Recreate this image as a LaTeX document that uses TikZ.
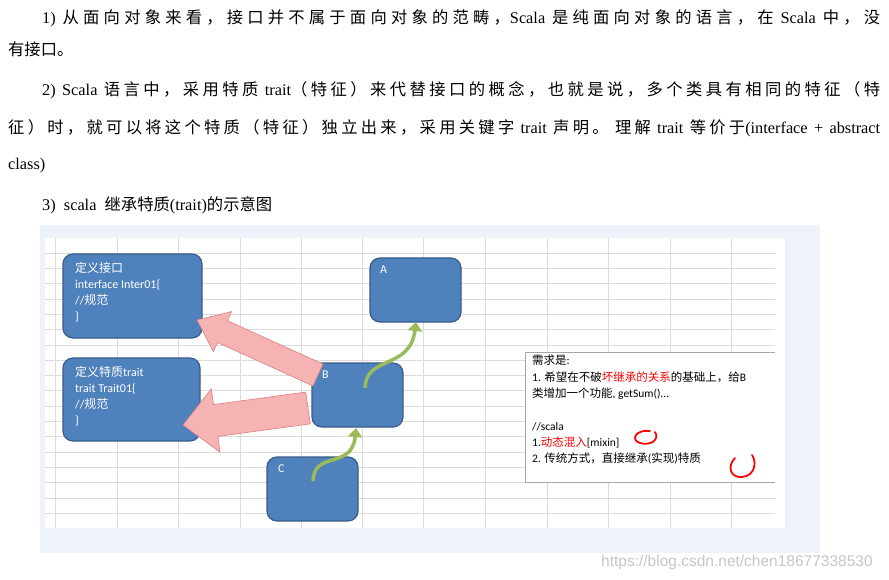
\documentclass[tikz,border=0pt]{standalone}
\usetikzlibrary{arrows.meta}
\usepackage{fontspec}
\setmainfont{Liberation Serif}
\newfontfamily\cjk{Noto Sans CJK SC}
\newfontfamily\dia{Carlito}
\newfontfamily\wm{Liberation Sans}
\def\latinfont{\rmfamily}
\XeTeXinterchartokenstate=1
\newXeTeXintercharclass\cjkclass
\newcount\cc
\cc="4E00 \loop \XeTeXcharclass\cc=\cjkclass \advance\cc1 \ifnum\cc<"A000 \repeat
\cc="3000 \loop \XeTeXcharclass\cc=\cjkclass \advance\cc1 \ifnum\cc<"3040 \repeat
\cc="FF00 \loop \XeTeXcharclass\cc=\cjkclass \advance\cc1 \ifnum\cc<"FF60 \repeat
\XeTeXinterchartoks 0 \cjkclass = {\cjk}
\XeTeXinterchartoks 4095 \cjkclass = {\cjk}
\XeTeXinterchartoks \cjkclass 0 = {\latinfont}
\XeTeXinterchartoks \cjkclass 4095 = {\latinfont}
\XeTeXinterchartoks \cjkclass \cjkclass = {\hskip0pt plus 3pt}
\definecolor{boxblue}{HTML}{4F81BD}
\definecolor{boxedge}{HTML}{385D8A}
\definecolor{panel}{HTML}{EEF2FA}
\definecolor{grid}{HTML}{DCDCDC}
\definecolor{pinkf}{HTML}{F6B3B3}
\definecolor{pinkd}{HTML}{DC8080}
\definecolor{grn}{HTML}{9BBB59}
\begin{document}
\begin{tikzpicture}[x=1pt,y=-1pt,
  txt/.style={anchor=west,inner sep=0pt,font=\def\latinfont{\rmfamily}\rmfamily\fontsize{16.3}{18}\selectfont},
  blk/.style={draw=boxedge,line width=1.2pt,fill=boxblue,rounded corners=10pt},
  lbl/.style={anchor=north west,inner sep=0pt,text=white,font=\def\latinfont{\dia}\dia\fontsize{12}{16}\selectfont,align=left},
  pink/.style={fill=pinkf,draw=pinkd,line width=0.6pt},
  garrow/.style={draw=grn,line width=3.5pt,-{Triangle[length=9pt,width=14pt]}},
  note/.style={anchor=north west,inner sep=0pt,font=\def\latinfont{\dia}\dia\fontsize{11.5}{16.3}\selectfont,align=left}]
\useasboundingbox (0,0) rectangle (889,580);
\fill[white] (0,0) rectangle (889,580);
% text
\node[txt] (l1) at (42,18) {\makebox[838pt][s]{1)  从面向对象来看，接口并不属于面向对象的范畴，Scala 是纯面向对象的语言，在 Scala 中，没}};
\node[txt] (l2) at (8,49) {有接口。};
\node[txt] (l3) at (42,90) {\makebox[838pt][s]{2)  Scala 语言中，采用特质 trait（特征）来代替接口的概念，也就是说，多个类具有相同的特征（特}};
\node[txt] (l4) at (8,128) {\makebox[872pt][s]{征）时，就可以将这个特质（特征）独立出来，采用关键字 trait 声明。 理解 trait  等价于(interface + abstract}};
\node[txt] (l5) at (8,166) {class)};
\node[txt] (l6) at (42,205) {3)\ \ scala\ \ 继承特质(trait)的示意图};
% panel
\fill[panel] (40,225) rectangle (820,553);
\fill[white] (45,238) rectangle (785,528);
\foreach \x in {55,117,178,240,301,362,423,485,547,608,670,731}
  \draw[grid,line width=0.5pt] (\x,238) -- (\x,528);
\foreach \k in {0,...,17}
  \draw[grid,line width=0.5pt] (45,253+15.3*\k) -- (775,253+15.3*\k);
% boxes
\draw[blk] (63,254) rectangle (202,338);
\node[lbl] (ti) at (75,262) {定义接口\\interface Inter01\{\\ //规范\\ \}};
\draw[blk] (63,358) rectangle (200,441);
\node[lbl] (tt) at (75,366) {定义特质trait\\trait Trait01\{\\ //规范\\ \}};
\draw[blk] (370,258) rectangle (461,322);
\node[lbl] (a) at (380,266) {A};
\draw[blk] (312,363) rectangle (403,427);
\node[lbl] (b) at (322,371) {B};
\draw[blk] (267,457) rectangle (358,521);
\node[lbl] (c) at (278,465) {C};
% pink arrows
\draw[pink] (197,320) -- (213.4,351.6) -- (217.5,342.5) -- (313,385.9) -- (323,364.1) -- (227.5,320.7) -- (231.6,311.6) -- cycle;
\draw[pink] (183,425) -- (220,452.2) -- (217.9,436.4) -- (310.2,423.9) -- (305.8,392.1) -- (213.5,404.6) -- (211.4,388.8) -- cycle;
% green arrows
\coordinate (g1s) at (365,388); \coordinate (g1e) at (416,322);
\draw[garrow] (g1s) .. controls (366,355) and (410,370) .. (g1e);
\coordinate (g2s) at (313,481); \coordinate (g2e) at (356,428);
\draw[garrow] (g2s) .. controls (314,450) and (352,470) .. (g2e);
% note box
\fill[white] (525,352) rectangle (775,482);
\draw[gray!70,line width=0.6pt] (775,352) -- (525,352) -- (525,482) -- (775,482);
\node[note] (nt) at (532,355) {需求是:\\1. 希望在不破\textcolor{red}{坏继承的关系}的基础上，给B\\类增加一个功能, getSum()...\\[16.3pt]//scala\\1.\textcolor{red}{动态混入}[mixin]\\2. 传统方式，直接继承(实现)特质};
\draw[red,line width=1.8pt,line cap=round] (650,431) .. controls (636,429) and (630,440) .. (640,443) .. controls (650,446) and (660,440) .. (655,432);
\draw[red,line width=1.8pt,line cap=round] (735,458) .. controls (727,466) and (730,478) .. (742,477) .. controls (755,476) and (757,462) .. (752,455);
% watermark
\node[anchor=west,inner sep=0pt,text=gray!45,font=\wm\fontsize{15.5}{17}\selectfont] (wm) at (601,562) {https://blog.csdn.net/chen18677338530};
\end{tikzpicture}
\end{document}
